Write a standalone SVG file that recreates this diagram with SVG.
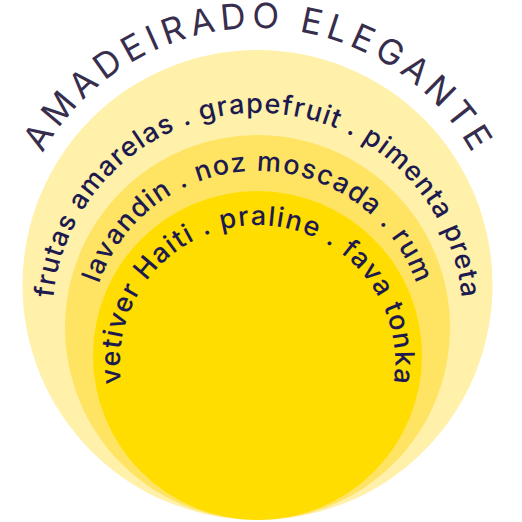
<svg xmlns="http://www.w3.org/2000/svg" xmlns:xlink="http://www.w3.org/1999/xlink" width="522" height="522" viewBox="0 0 522 522">
  <style>
    .ring { font-family: Inter, "Open Sans", "Liberation Sans", sans-serif; font-size: 27px; font-weight: 500; fill: #1d1a4f; }
    .title { font-family: Inter, "Open Sans", "Liberation Sans", sans-serif; font-size: 35px; font-weight: 400; fill: #372e4e; }
  </style>
  <defs>
    <path id="pTitle" d="M42.5,153.4 A247,247 0 0 1 472.5,153.4"/>
    <path id="pOuter" d="M53.2,297.9 A205.3,205.3 0 0 1 461.8,297.9"/>
    <path id="pMiddle" d="M98.8,283.75 A168,168 0 0 1 416.2,283.75"/>
    <path id="pInner" d="M121.3,383.05 A137.7,137.7 0 1 1 393.7,383.05"/>
  </defs>
  <rect width="522" height="522" fill="#ffffff"/>
  <g id="outer">
    <circle cx="257.5" cy="285" r="235" fill="#fff0aa"/>
  </g>
  <g id="middle">
    <circle cx="257.5" cy="327.5" r="192.5" fill="#ffe464"/>
  </g>
  <g id="inner">
    <circle cx="257.5" cy="355.5" r="164.5" fill="#ffdd00"/>
  </g>
  <g id="labels">
    <text class="title"><textPath href="#pTitle" xlink:href="#pTitle" textLength="521" lengthAdjust="spacing">AMADEIRADO ELEGANTE</textPath></text>
    <text class="ring"><textPath href="#pOuter" xlink:href="#pOuter" textLength="604" lengthAdjust="spacing">frutas amarelas . grapefruit . pimenta preta</textPath></text>
    <text class="ring"><textPath href="#pMiddle" xlink:href="#pMiddle" textLength="415" lengthAdjust="spacing">lavandin . noz moscada . rum</textPath></text>
    <text class="ring"><textPath href="#pInner" xlink:href="#pInner" textLength="473" lengthAdjust="spacing">vetiver Haiti . praline . fava tonka</textPath></text>
  </g>
</svg>
